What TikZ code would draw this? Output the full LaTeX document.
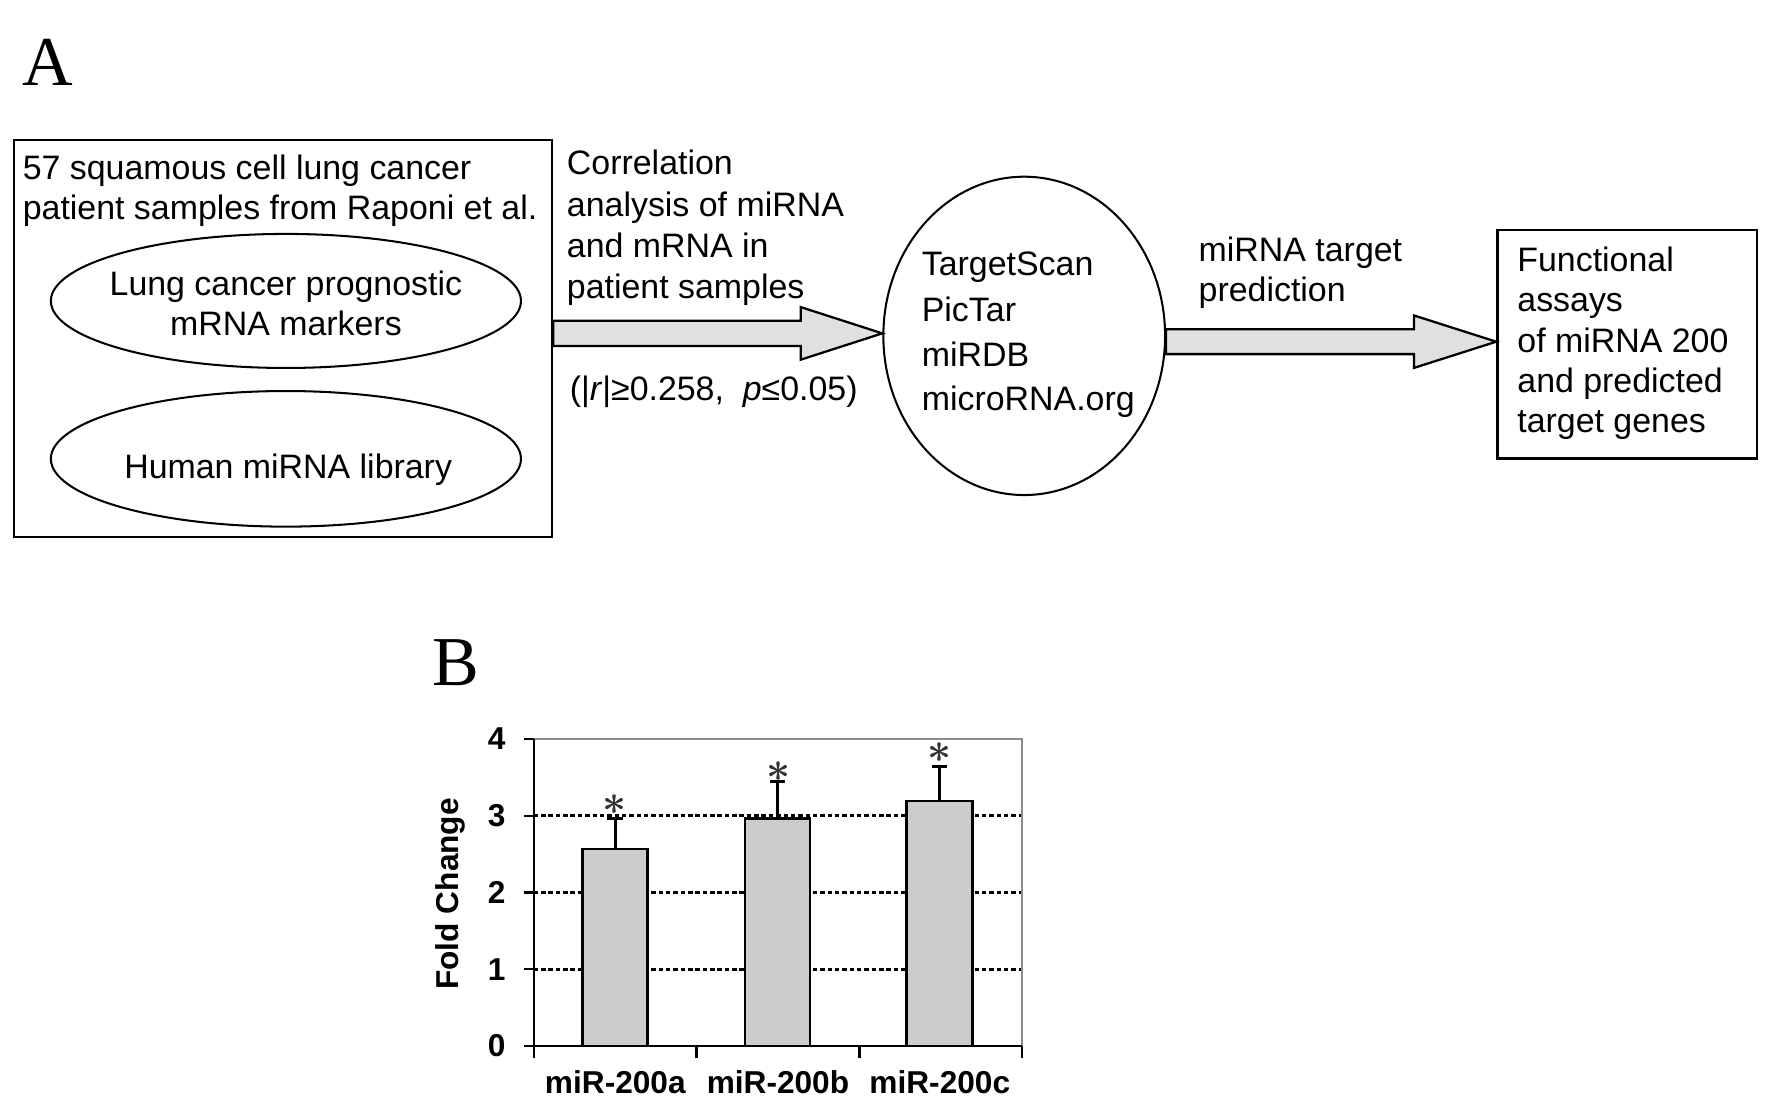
\documentclass[tikz,border=0pt]{standalone}
\usepackage{fontspec}
\setmainfont{Liberation Sans}
\newfontfamily\labelfont{Liberation Serif}
\usetikzlibrary{shapes.geometric,calc}
\definecolor{arrowfill}{HTML}{E0E0E0}
\definecolor{barfill}{HTML}{CCCCCC}
\definecolor{framegray}{HTML}{8C8C8C}
\definecolor{stargray}{HTML}{333333}
\begin{document}
\begin{tikzpicture}[x=1pt,y=-1pt,
  txt/.style={inner sep=0pt, font=\fontsize{30}{36}\selectfont},
  chart/.style={inner sep=0pt, font=\fontsize{28}{32}\selectfont\bfseries},
  panel/.style={inner sep=0pt, font=\labelfont\fontsize{62}{70}\selectfont},
  frame/.style={draw, line width=2pt, inner sep=0pt},
  oval/.style={draw, ellipse, line width=1.8pt, inner sep=0pt},
  blockarrow/.style={draw, line width=2pt, fill=arrowfill, line join=miter},
  bar/.style={draw, line width=2.2pt, fill=barfill},
  errbar/.style={line width=2.4pt},
  gridline/.style={line width=2.6pt, dash pattern=on 4pt off 2.5pt},
  axisline/.style={line width=2.2pt},
  star/.style={inner sep=0pt, text=stargray}
]
\useasboundingbox (0,0) rectangle (1568,979.6);

% ---------- Panel A ----------
\node[panel, anchor=base west] (labA) at (19.5,75.9) {A};

\node[frame, minimum width=475.9, minimum height=351.1] (L) at (250.65,299.45) {};
\node[oval, minimum width=416, minimum height=118.6] (E1) at (253,266.3) {};
\node[oval, minimum width=416, minimum height=120] (E2) at (253,406) {};
\node[oval, minimum width=249.3, minimum height=281.7] (C) at (906.3,297.2) {};
\node[frame, minimum width=229.4, minimum height=202.1] (R) at (1439.7,304.55) {};

\node[txt, anchor=base west] (l1) at (20,158.6) {57 squamous cell lung cancer};
\node[txt, anchor=base west] (l2) at (20,193.9) {patient samples from Raponi et al.};
\node[txt, anchor=base] (e1a) at (253,261.9) {Lung cancer prognostic};
\node[txt, anchor=base] (e1b) at (253,297.2) {mRNA markers};
\node[txt, anchor=base] (e2a) at (255,423.1) {Human miRNA library};

\node[txt, anchor=base west] (c1) at (501.5,154.6) {Correlation};
\node[txt, anchor=base west] (c2) at (501.5,191.2) {analysis of miRNA};
\node[txt, anchor=base west] (c3) at (501.5,227.8) {and mRNA in};
\node[txt, anchor=base west] (c4) at (501.5,264.4) {patient samples};
\node[txt, anchor=base west] (stat) at (504,354) {(|\textit{r}|≥0.258,\ \ \textit{p}≤0.05)};

\node[txt, anchor=base west] (t1l) at (815.5,244.2) {TargetScan};
\node[txt, anchor=base west] (t2l) at (815.5,284.1) {PicTar};
\node[txt, anchor=base west] (t3l) at (815.5,324.3) {miRDB};
\node[txt, anchor=base west] (t4l) at (815.5,363.4) {microRNA.org};

\node[txt, anchor=base west] (m1) at (1060.5,231.5) {miRNA target};
\node[txt, anchor=base west] (m2) at (1060.5,267) {prediction};

\node[txt, anchor=base west] (f1) at (1342.5,240.4) {Functional};
\node[txt, anchor=base west] (f2) at (1342.5,276) {assays};
\node[txt, anchor=base west] (f3) at (1342.5,311.6) {of miRNA 200};
\node[txt, anchor=base west] (f4) at (1342.5,347.2) {and predicted};
\node[txt, anchor=base west] (f5) at (1342.5,382.8) {target genes};

% block arrows
\coordinate (t1) at ($(C.west)+(0,-2.2)$);
\coordinate (s1) at (L.east |- t1);
\draw[blockarrow] ($(s1)+(0,-11.2)$) -- ($(t1)+(-72.3,-11.2)$) -- ($(t1)+(-72.3,-23.3)$)
  -- (t1) -- ($(t1)+(-72.3,23.3)$) -- ($(t1)+(-72.3,11.2)$) -- ($(s1)+(0,11.2)$) -- cycle;

\coordinate (t2) at ($(R.west)+(0,-2.2)$);
\coordinate (s2) at (C.east |- t2);
\draw[blockarrow] ($(s2)+(0,-11)$) -- ($(t2)+(-72.8,-11)$) -- ($(t2)+(-72.8,-23.2)$)
  -- (t2) -- ($(t2)+(-72.8,23.2)$) -- ($(t2)+(-72.8,11)$) -- ($(s2)+(0,11)$) -- cycle;

% ---------- Panel B ----------
\node[panel, anchor=base west] (labB) at (382.5,606.8) {B};

% grid lines and frame
\foreach \yy in {857.55,789.7,721.85} \draw[gridline] (472.3,\yy) -- (904.5,\yy);
\draw[framegray, line width=1.8pt] (472.3,654) -- (904.5,654) -- (904.5,925.4);

% bars
\draw[bar] (515.6,925.4) rectangle (573.1,751.3);
\draw[bar] (659.3,925.4) rectangle (716.8,724.1);
\draw[bar] (802.3,925.4) rectangle (860.4,708.8);

% error bars
\draw[errbar] (544.35,751.3) -- (544.35,724.1) (537.35,724.1) -- (551.35,724.1);
\draw[errbar] (688.05,724.1) -- (688.05,691.7) (681.05,691.7) -- (695.05,691.7);
\draw[errbar] (831.35,708.8) -- (831.35,678.4) (824.35,678.4) -- (838.35,678.4);

% asterisks
\node[star] (sa) at (544.2,712.3) {\scalebox{3.7}{\boldmath$\ast$}};
\node[star] (sb) at (688.5,682.9) {\scalebox{3.7}{\boldmath$\ast$}};
\node[star] (sc) at (831.0,666.1) {\scalebox{3.7}{\boldmath$\ast$}};

% axes
\draw[axisline] (472.3,654) -- (472.3,925.4);
\draw[axisline] (463.5,925.4) -- (904.5,925.4);
\foreach \yy in {654,721.85,789.7,857.55} \draw[axisline] (463.5,\yy) -- (472.3,\yy);
\foreach \xx in {472.3,616.4,760.5,904.5} \draw[axisline] (\xx,925.4) -- (\xx,936);

% tick labels
\node[chart, anchor=east] (y4) at (447.5,654) {4};
\node[chart, anchor=east] (y3) at (447.5,721.85) {3};
\node[chart, anchor=east] (y2) at (447.5,789.7) {2};
\node[chart, anchor=east] (y1) at (447.5,857.55) {1};
\node[chart, anchor=east] (y0) at (447.5,925.4) {0};

\node[chart, rotate=90, anchor=base] (ylab) at (406,791) {Fold Change};

\node[chart, anchor=base] (xa) at (544.5,968) {miR-200a};
\node[chart, anchor=base] (xb) at (688.4,968) {miR-200b};
\node[chart, anchor=base] (xc) at (831.6,968) {miR-200c};
\end{tikzpicture}
\end{document}
